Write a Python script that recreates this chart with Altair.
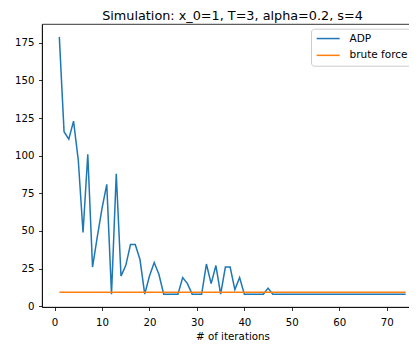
import altair as alt
import pandas as pd

iterations = list(range(1, 75))
adp = [179, 116, 111, 123, 97, 49, 101, 26, 46, 65,
       81, 8, 88, 20, 27, 41, 41, 31, 8, 20,
       29, 21, 8, 8, 8, 8, 19, 15, 8, 8,
       8, 28, 15, 27, 8, 26, 26, 11, 19, 8,
       8, 8, 8, 8, 12] + [8] * 29
brute_force = [9.2] * 74
series_names = ["ADP", "brute force"]
series_colors = ["#1f77b4", "#ff7f0e"]
x_ticks = [0, 10, 20, 30, 40, 50, 60, 70]
y_ticks = [0, 25, 50, 75, 100, 125, 150, 175]

df = pd.concat([
    pd.DataFrame({"iter": iterations, "value": adp, "series": series_names[0]}),
    pd.DataFrame({"iter": iterations, "value": brute_force, "series": series_names[1]}),
])

chart = alt.Chart(df).mark_line(strokeWidth=1.5).encode(
    x=alt.X("iter:Q", title="# of iterations",
            scale=alt.Scale(domain=[-2.65, 77.65], nice=False, zero=False),
            axis=alt.Axis(values=x_ticks, format="d", labelPadding=6.6,
                          titleBaseline="alphabetic", titleY=32.3, titleFontSize=10.3)),
    y=alt.Y("value:Q", title=None,
            scale=alt.Scale(domain=[-0.55, 187.55], nice=False, zero=False),
            axis=alt.Axis(values=y_ticks, format="d", labelPadding=4.5)),
    color=alt.Color("series:N", title=None,
                    scale=alt.Scale(domain=series_names, range=series_colors),
                    legend=alt.Legend(orient="none", legendX=269, legendY=4.7,
                                      labelExpr="datum.label + '\u00a0\u00a0\u00a0'")),
).properties(
    width=381, height=283,
    title=alt.TitleParams("Simulation: x_0=1, T=3, alpha=0.2, s=4", offset=1),
    autosize=alt.AutoSizeParams(type="none"),
    padding={"left": 34, "top": 16, "right": -14, "bottom": 37},
).configure_view(
    stroke="#000000", strokeWidth=0.8
).configure_axis(
    domainColor="#000000", domainWidth=0.8, tickColor="#000000", tickWidth=0.8,
    tickSize=3.5, labelFont="DejaVu Sans", labelFontSize=10.2, labelColor="#000000",
    grid=False, titleFont="DejaVu Sans", titleFontWeight="normal", titleColor="#000000",
).configure_title(
    font="DejaVu Sans", fontSize=12.8, fontWeight="normal", color="#000000"
).configure_legend(
    strokeColor="#cccccc", fillColor="#ffffff", padding=4.6, cornerRadius=3,
    symbolType="M-3,0H3", symbolSize=58.8, symbolStrokeWidth=1.5, symbolOffset=7.3,
    labelFont="DejaVu Sans", labelFontSize=10.5, labelColor="#000000",
    labelOffset=16.1, rowPadding=5.8,
)

chart.save("out.html", embed_options={"renderer": "svg", "actions": False})
